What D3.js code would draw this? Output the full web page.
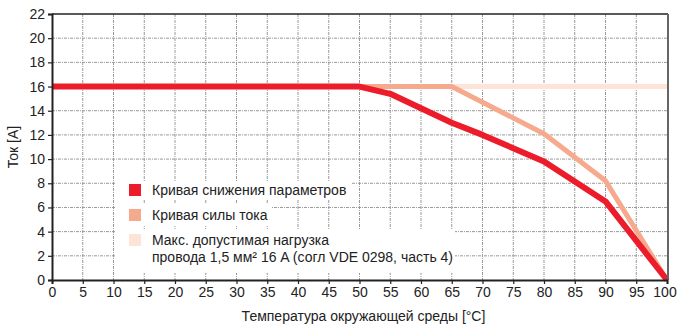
<!DOCTYPE html>
<html><head><meta charset="utf-8">
<script src="https://cdn.jsdelivr.net/npm/d3@7"></script>
<style>
body{margin:0;background:#fff;}
svg text{font-family:"Liberation Sans Narrow","Arial Narrow","Liberation Sans",Arial,sans-serif;fill:#222;}
</style></head>
<body><svg id="c" width="677" height="329"></svg>
<script>
const xTicks = [0,5,10,15,20,25,30,35,40,45,50,55,60,65,70,75,80,85,90,95,100];
const yTicks = [0,2,4,6,8,10,12,14,16,18,20,22];
const maxLoadT = [0,100];
const maxLoadI = [16,16];
const currentT = [0,65,70,80,90,100];
const currentI = [16,16,14.7,12.1,8.2,0];
const deratingT = [0,50,55,60,65,70,80,90,100];
const deratingI = [16,16,15.4,14.2,13.0,12.0,9.8,6.5,0];
const legendLabels = [["Кривая снижения параметров"],["Кривая силы тока"],["Макс. допустимая нагрузка","провода 1,5 мм² 16 A (согл VDE 0298, часть 4)"]];
const colors = ["#ec1c2a","#f5aa8d","#fde3d8"];

const svg = d3.select("#c");
const L=52,R=667,T=14,B=280;
const x = d3.scaleLinear().domain([0,100]).range([L,R]);
const y = d3.scaleLinear().domain([0,22]).range([B,T]);

// grid
const g = svg.append("g");
g.selectAll("line.v").data(xTicks.slice(1,-1)).join("line")
 .attr("x1",d=>x(d)).attr("x2",d=>x(d)).attr("y1",T).attr("y2",B)
 .attr("stroke","#999").attr("stroke-dasharray","3,1,1,1");
g.selectAll("line.h").data(yTicks.slice(1,-1)).join("line")
 .attr("y1",d=>y(d)).attr("y2",d=>y(d)).attr("x1",L).attr("x2",R)
 .attr("stroke","#999").attr("stroke-dasharray","3,1,1,1");

// legend backgrounds
const legBoxes = [[116,181,352,200],[116,203,272,226],[116,229,455,273]];
svg.selectAll("rect.lb").data(legBoxes).join("rect")
 .attr("x",d=>d[0]).attr("y",d=>d[1]).attr("width",d=>d[2]-d[0]).attr("height",d=>d[3]-d[1]).attr("fill","#fff");

// lines
const line = d3.line();
function series(ts, is, col, w){
  svg.append("path").attr("d", line(ts.map((t,i)=>[x(t),y(is[i])])))
   .attr("fill","none").attr("stroke",col).attr("stroke-width",w).attr("stroke-linejoin","round");
}
series(maxLoadT,maxLoadI,colors[2],5);
series(currentT,currentI,colors[1],5);
series(deratingT,deratingI,colors[0],6);

// frame
svg.append("line").attr("x1",L).attr("x2",R+1).attr("y1",T).attr("y2",T).attr("stroke","#222").attr("stroke-width",1.5);
svg.append("line").attr("x1",R+1).attr("x2",R+1).attr("y1",T).attr("y2",B).attr("stroke","#666").attr("stroke-width",2);

// axes
const xa = svg.append("g").attr("transform",`translate(0,${B})`)
 .call(d3.axisBottom(x).tickValues(xTicks).tickSize(4).tickPadding(3));
const ya = svg.append("g").attr("transform",`translate(${L},0)`)
 .call(d3.axisLeft(y).tickValues(yTicks).tickSize(4).tickPadding(3));
[xa,ya].forEach(a=>{
  a.select(".domain").attr("stroke","#222").attr("stroke-width",2);
  a.selectAll(".tick line").attr("stroke","#222").attr("stroke-width",1.2);
  a.selectAll("text").attr("font-size",14).attr("fill","#222").style("font-family",null);
});
xa.selectAll(".tick text").filter(d=>d===100).attr("dx",-2.5);

svg.append("text").attr("x",(x(0)+x(100))/2+4).attr("y",321).attr("text-anchor","middle").attr("font-size",14).text("Температура окружающей среды [°C]");
svg.append("text").attr("transform","translate(18,147) rotate(-90)").attr("text-anchor","middle").attr("font-size",14).text("Ток [A]");

// legend
const ly = [184,209,234];
legendLabels.forEach((lab,i)=>{
  svg.append("rect").attr("x",129).attr("y",ly[i]).attr("width",12).attr("height",12).attr("fill",colors[i]);
  lab.forEach((s,j)=>{
    svg.append("text").attr("x",152).attr("y",ly[i]+11+j*17).attr("font-size",14).text(s);
  });
});
</script></body></html>
